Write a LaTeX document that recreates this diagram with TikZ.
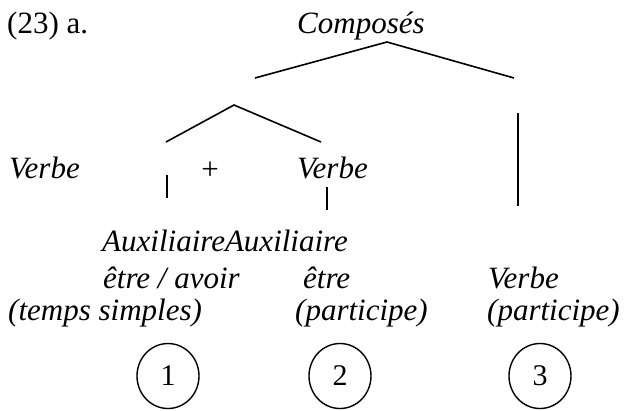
\documentclass[tikz,border=0pt]{standalone}
\usepackage{fontspec}
\setmainfont{Liberation Serif}
\usetikzlibrary{shapes.geometric}
\begin{document}
\begin{tikzpicture}[x=1pt,y=-1pt,
  txt/.style={inner sep=0pt,anchor=base west,font=\fontsize{31}{31}\selectfont},
  itxt/.style={txt,font=\fontsize{31}{31}\selectfont\itshape},
  branch/.style={line width=1.6pt,black},
  num/.style={draw,ellipse,line width=1.4pt,minimum width=62pt,minimum height=65pt,inner sep=0pt,font=\fontsize{30}{30}\selectfont}]
\useasboundingbox (0,0) rectangle (624,410);
% labels
\node[txt] (ex) at (7,33) {(23) a.};
\node[itxt] (comp) at (297,33) {Composés};
\node[itxt] (vl) at (9,178) {Verbe};
\node[txt,anchor=center] (plus) at (210,171) {+};
\node[itxt] (vm) at (297,178) {Verbe};
\node[itxt] (aux) at (102,251) {AuxiliaireAuxiliaire};
\node[itxt] (ea) at (103,288) {être / avoir};
\node[itxt] (etre) at (303,288) {être};
\node[itxt] (vr) at (488,288) {Verbe};
\node[itxt] (ts) at (8,320) {(temps simples)};
\node[itxt] (pm) at (295,320) {(participe)};
\node[itxt] (pr) at (487,320) {(participe)};
% circles
\node[num] (c1) at (168,376) {1};
\node[num] (c2) at (340,376) {2};
\node[num] (c3) at (540,376) {3};
% tree coordinates
\coordinate (top) at (387,42);
\coordinate (topl) at (255,78);
\coordinate (topr) at (514,78);
\coordinate (mid) at (234,105);
\coordinate (midl) at (166,142);
\coordinate (midr) at (321,142);
\coordinate (rv1) at (518,113);
\coordinate (rv2) at (518,206);
\coordinate (lt1) at (167,175);
\coordinate (lt2) at (167,198);
\coordinate (mt1) at (327,187);
\coordinate (mt2) at (327,210);
\draw[branch] (topl) -- (top) -- (topr);
\draw[branch] (midl) -- (mid) -- (midr);
\draw[branch] (rv1) -- (rv2);
\draw[branch] (lt1) -- (lt2);
\draw[branch] (mt1) -- (mt2);
\end{tikzpicture}
\end{document}
